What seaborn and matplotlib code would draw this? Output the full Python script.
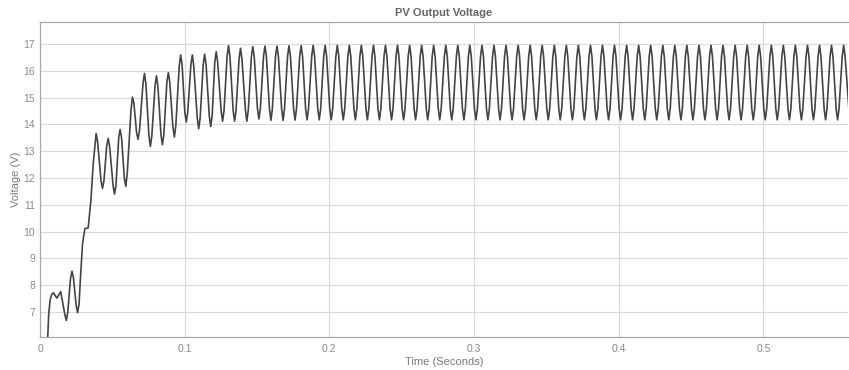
import matplotlib
matplotlib.use('Agg')
import matplotlib.pyplot as plt
import numpy as np
import seaborn as sns

# start-up transient of the PV voltage (time s, voltage V)
trans_time = [0.0045, 0.0053, 0.0060, 0.0070, 0.0080, 0.0092, 0.0117, 0.0143,
              0.0182, 0.0221, 0.0260, 0.0280, 0.0294, 0.0310, 0.0333, 0.0352,
              0.0368, 0.0388, 0.0432, 0.0471, 0.0515, 0.0554, 0.0593, 0.0639,
              0.0678, 0.0722, 0.0763, 0.0805, 0.0846, 0.0887, 0.0929, 0.0972,
              0.1011, 0.1053, 0.1097, 0.1138, 0.1180, 0.1218, 0.1262, 0.1303,
              0.1345, 0.1386]
trans_volt = [0.0, 6.0, 6.9, 7.45, 7.65, 7.72, 7.52, 7.76,
              6.69, 8.52, 6.98, 8.3, 9.55, 10.11, 10.14, 11.17,
              12.54, 13.66, 11.61, 13.48, 11.40, 13.81, 11.69, 15.02,
              13.44, 15.90, 13.18, 15.81, 13.24, 15.93, 13.53, 16.59,
              14.09, 16.59, 13.84, 16.62, 13.92, 16.71, 14.12, 16.94,
              14.12, 16.84]

# points on the rounded flanks next to each transient peak / dip
trans_flank_time = [0.0172, 0.0192, 0.0211, 0.0231, 0.0250, 0.0270, 0.0398,
                    0.0422, 0.0442, 0.0461, 0.0481, 0.0505, 0.0525, 0.0544,
                    0.0564, 0.0583, 0.0603, 0.0629, 0.0649, 0.0668, 0.0688,
                    0.0712, 0.0732, 0.0753, 0.0773, 0.0795, 0.0815, 0.0836,
                    0.0856, 0.0877, 0.0897, 0.0919, 0.0939, 0.0962, 0.0982,
                    0.1001, 0.1021, 0.1043, 0.1063, 0.1087, 0.1107, 0.1128,
                    0.1148, 0.1170, 0.1190, 0.1208, 0.1228, 0.1252, 0.1272,
                    0.1293, 0.1313, 0.1335, 0.1355, 0.1376, 0.1396]
trans_flank_volt = [6.90, 7.00, 8.25, 8.29, 7.25, 7.30, 13.36,
                    11.89, 11.89, 13.19, 13.19, 11.72, 11.72, 13.49,
                    13.49, 12.00, 12.17, 14.54, 14.79, 13.67, 13.80,
                    15.52, 15.52, 13.57, 13.57, 15.43, 15.43, 13.62,
                    13.62, 15.58, 15.58, 13.88, 13.97, 16.15, 16.23,
                    14.45, 14.45, 16.23, 16.16, 14.24, 14.24, 16.22,
                    16.22, 14.32, 14.32, 16.32, 16.32, 14.51, 14.51,
                    16.53, 16.53, 14.52, 14.52, 16.44, 16.44]

# steady 120 Hz ripple: peaks
peak_time = [0.1471, 0.1555, 0.1638, 0.1721, 0.1805, 0.1888, 0.1971, 0.2055,
             0.2138, 0.2221, 0.2305, 0.2388, 0.2471, 0.2555, 0.2638, 0.2721,
             0.2805, 0.2888, 0.2971, 0.3055, 0.3138, 0.3221, 0.3305, 0.3388,
             0.3471, 0.3555, 0.3638, 0.3721, 0.3805, 0.3888, 0.3971, 0.4055,
             0.4138, 0.4221, 0.4305, 0.4388, 0.4471, 0.4555, 0.4638, 0.4721,
             0.4805, 0.4888, 0.4971, 0.5055, 0.5138, 0.5221, 0.5305, 0.5388,
             0.5471, 0.5555]
peak_volt = [16.90, 16.92, 16.92, 16.93, 16.94, 16.95, 16.95, 16.95,
             16.95, 16.95, 16.95, 16.95, 16.95, 16.95, 16.95, 16.95,
             16.95, 16.95, 16.95, 16.95, 16.95, 16.95, 16.95, 16.95,
             16.95, 16.95, 16.95, 16.95, 16.95, 16.95, 16.95, 16.95,
             16.95, 16.95, 16.95, 16.95, 16.95, 16.95, 16.95, 16.95,
             16.95, 16.95, 16.95, 16.95, 16.95, 16.95, 16.95, 16.95,
             16.95, 16.95]

# steady ripple: troughs (plus last sample at the right edge)
trough_time = [0.1430, 0.1513, 0.1596, 0.1680, 0.1763, 0.1846, 0.1930, 0.2013,
               0.2096, 0.2180, 0.2263, 0.2346, 0.2430, 0.2513, 0.2596, 0.2680,
               0.2763, 0.2846, 0.2930, 0.3013, 0.3096, 0.3180, 0.3263, 0.3346,
               0.3430, 0.3513, 0.3596, 0.3680, 0.3763, 0.3846, 0.3930, 0.4013,
               0.4096, 0.4180, 0.4263, 0.4346, 0.4430, 0.4513, 0.4596, 0.4680,
               0.4763, 0.4846, 0.4930, 0.5013, 0.5096, 0.5180, 0.5263, 0.5346,
               0.5430, 0.5513, 0.5595]
trough_volt = [14.12, 14.20, 14.15, 14.15, 14.16, 14.17, 14.17, 14.17,
               14.17, 14.17, 14.17, 14.17, 14.17, 14.17, 14.17, 14.17,
               14.17, 14.17, 14.17, 14.17, 14.17, 14.17, 14.17, 14.17,
               14.17, 14.17, 14.17, 14.17, 14.17, 14.17, 14.17, 14.17,
               14.17, 14.17, 14.17, 14.17, 14.17, 14.17, 14.17, 14.17,
               14.17, 14.17, 14.17, 14.17, 14.17, 14.17, 14.17, 14.17,
               14.17, 14.17, 14.30]

# steady ripple: rounded flanks either side of each peak
upper_flank_time = [
    0.1461, 0.1481, 0.1545, 0.1565, 0.1628, 0.1648, 0.1711, 0.1731,
    0.1795, 0.1815, 0.1878, 0.1898, 0.1961, 0.1981, 0.2045, 0.2065,
    0.2128, 0.2148, 0.2211, 0.2231, 0.2295, 0.2315, 0.2378, 0.2398,
    0.2461, 0.2481, 0.2545, 0.2565, 0.2628, 0.2648, 0.2711, 0.2731,
    0.2795, 0.2815, 0.2878, 0.2898, 0.2961, 0.2981, 0.3045, 0.3065,
    0.3128, 0.3148, 0.3211, 0.3231, 0.3295, 0.3315, 0.3378, 0.3398,
    0.3461, 0.3481, 0.3545, 0.3565, 0.3628, 0.3648, 0.3711, 0.3731,
    0.3795, 0.3815, 0.3878, 0.3898, 0.3961, 0.3981, 0.4045, 0.4065,
    0.4128, 0.4148, 0.4211, 0.4231, 0.4295, 0.4315, 0.4378, 0.4398,
    0.4461, 0.4481, 0.4545, 0.4565, 0.4628, 0.4648, 0.4711, 0.4731,
    0.4795, 0.4815, 0.4878, 0.4898, 0.4961, 0.4981, 0.5045, 0.5065,
    0.5128, 0.5148, 0.5211, 0.5231, 0.5295, 0.5315, 0.5378, 0.5398,
    0.5461, 0.5481, 0.5545, 0.5565]
upper_flank_volt = [
    16.52, 16.52, 16.54, 16.54, 16.54, 16.54, 16.54, 16.54,
    16.54, 16.54, 16.54, 16.54, 16.54, 16.54, 16.54, 16.54,
    16.54, 16.54, 16.54, 16.54, 16.54, 16.54, 16.54, 16.54,
    16.54, 16.54, 16.54, 16.54, 16.54, 16.54, 16.54, 16.54,
    16.54, 16.54, 16.54, 16.54, 16.54, 16.54, 16.54, 16.54,
    16.54, 16.54, 16.54, 16.54, 16.54, 16.54, 16.54, 16.54,
    16.54, 16.54, 16.54, 16.54, 16.54, 16.54, 16.54, 16.54,
    16.54, 16.54, 16.54, 16.54, 16.54, 16.54, 16.54, 16.54,
    16.54, 16.54, 16.54, 16.54, 16.54, 16.54, 16.54, 16.54,
    16.54, 16.54, 16.54, 16.54, 16.54, 16.54, 16.54, 16.54,
    16.54, 16.54, 16.54, 16.54, 16.54, 16.54, 16.54, 16.54,
    16.54, 16.54, 16.54, 16.54, 16.54, 16.54, 16.54, 16.54,
    16.54, 16.54, 16.54, 16.54]

# steady ripple: rounded flanks either side of each trough
lower_flank_time = [
    0.1420, 0.1440, 0.1503, 0.1523, 0.1586, 0.1606, 0.1670, 0.1690,
    0.1753, 0.1773, 0.1836, 0.1856, 0.1920, 0.1940, 0.2003, 0.2023,
    0.2086, 0.2106, 0.2170, 0.2190, 0.2253, 0.2273, 0.2336, 0.2356,
    0.2420, 0.2440, 0.2503, 0.2523, 0.2586, 0.2606, 0.2670, 0.2690,
    0.2753, 0.2773, 0.2836, 0.2856, 0.2920, 0.2940, 0.3003, 0.3023,
    0.3086, 0.3106, 0.3170, 0.3190, 0.3253, 0.3273, 0.3336, 0.3356,
    0.3420, 0.3440, 0.3503, 0.3523, 0.3586, 0.3606, 0.3670, 0.3690,
    0.3753, 0.3773, 0.3836, 0.3856, 0.3920, 0.3940, 0.4003, 0.4023,
    0.4086, 0.4106, 0.4170, 0.4190, 0.4253, 0.4273, 0.4336, 0.4356,
    0.4420, 0.4440, 0.4503, 0.4523, 0.4586, 0.4606, 0.4670, 0.4690,
    0.4753, 0.4773, 0.4836, 0.4856, 0.4920, 0.4940, 0.5003, 0.5023,
    0.5086, 0.5106, 0.5170, 0.5190, 0.5253, 0.5273, 0.5336, 0.5356,
    0.5420, 0.5440, 0.5503, 0.5523]
lower_flank_volt = [
    14.52, 14.55, 14.58, 14.58, 14.58, 14.58, 14.58, 14.58,
    14.58, 14.58, 14.58, 14.58, 14.58, 14.58, 14.58, 14.58,
    14.58, 14.58, 14.58, 14.58, 14.58, 14.58, 14.58, 14.58,
    14.58, 14.58, 14.58, 14.58, 14.58, 14.58, 14.58, 14.58,
    14.58, 14.58, 14.58, 14.58, 14.58, 14.58, 14.58, 14.58,
    14.58, 14.58, 14.58, 14.58, 14.58, 14.58, 14.58, 14.58,
    14.58, 14.58, 14.58, 14.58, 14.58, 14.58, 14.58, 14.58,
    14.58, 14.58, 14.58, 14.58, 14.58, 14.58, 14.58, 14.58,
    14.58, 14.58, 14.58, 14.58, 14.58, 14.58, 14.58, 14.58,
    14.58, 14.58, 14.58, 14.58, 14.58, 14.58, 14.58, 14.58,
    14.58, 14.58, 14.58, 14.58, 14.58, 14.58, 14.58, 14.58,
    14.58, 14.58, 14.58, 14.58, 14.58, 14.58, 14.58, 14.58,
    14.58, 14.58, 14.58, 14.58]

x_ticks = [0, 0.1, 0.2, 0.3, 0.4, 0.5]
x_tick_labels = ['0', '0.1', '0.2', '0.3', '0.4', '0.5']
y_ticks = [7, 8, 9, 10, 11, 12, 13, 14, 15, 16, 17]


def main():
    """Draw the PV output voltage trace."""
    sns.set_style('whitegrid')
    plt.rcParams['font.family'] = ['Liberation Sans', 'DejaVu Sans']

    t = np.array(trans_time + trans_flank_time + peak_time + trough_time
                 + upper_flank_time + lower_flank_time)
    v = np.array(trans_volt + trans_flank_volt + peak_volt + trough_volt
                 + upper_flank_volt + lower_flank_volt)
    order = np.argsort(t)
    t, v = t[order], v[order]

    fig, ax = plt.subplots(figsize=(8.49, 3.70), dpi=100)
    fig.subplots_adjust(left=40 / 849, right=848 / 849,
                        top=1 - 21.7 / 370, bottom=1 - 337 / 370)
    sns.lineplot(x=t, y=v, ax=ax, color='#444444', linewidth=1.2,
                 estimator=None, sort=False)

    ax.set_xlim(0, 0.5585)
    ax.set_ylim(6.07, 17.83)
    ax.set_xticks(x_ticks)
    ax.set_xticklabels(x_tick_labels)
    ax.set_yticks(y_ticks)
    ax.grid(True, color='#dadada', linewidth=0.8)
    ax.tick_params(length=0, labelsize=7.5, labelcolor='#8a8a8a')
    ax.tick_params(axis='x', pad=5)
    ax.tick_params(axis='y', pad=3.5)
    for side in ['left', 'top', 'bottom']:
        ax.spines[side].set_color('#a8a8a8')
        ax.spines[side].set_linewidth(0.9)
    ax.spines['right'].set_visible(False)

    ax.set_xlabel('Time (Seconds)', fontsize=8, color='#7a7a7a', labelpad=2)
    ax.set_ylabel('Voltage (V)', fontsize=8, color='#7a7a7a', labelpad=2)
    ax.set_title('PV Output Voltage', fontsize=8, fontweight='bold',
                 color='#666666', pad=4)

    fig.savefig('out.png', dpi=100)


if __name__ == '__main__':
    main()
